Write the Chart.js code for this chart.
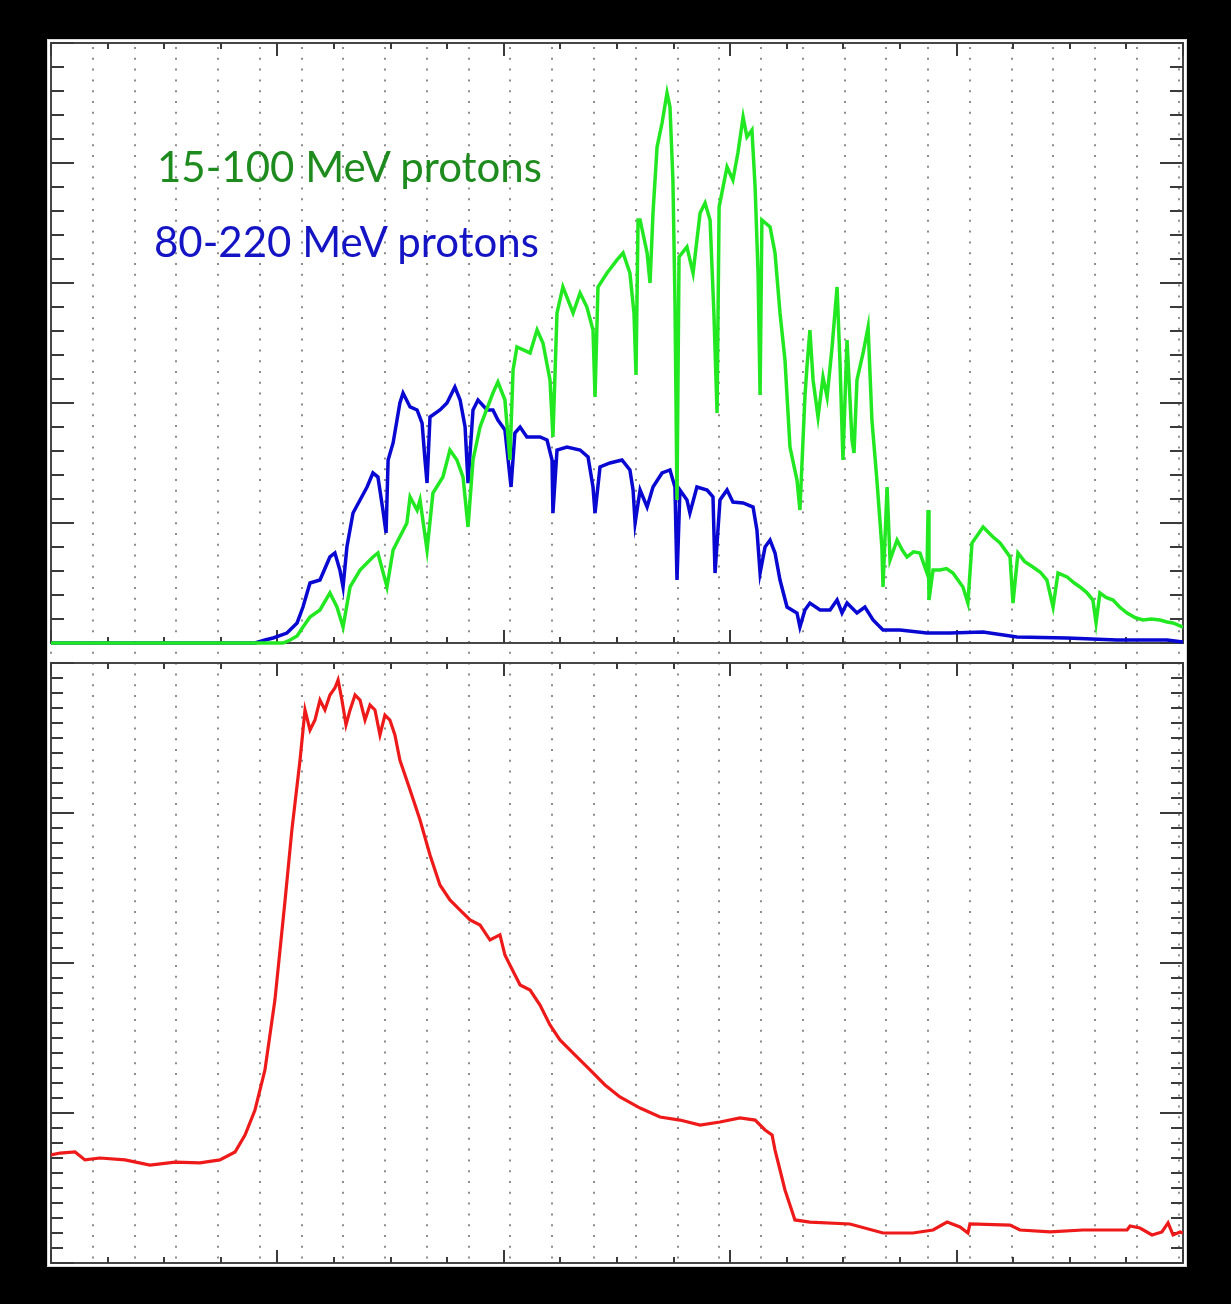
<!DOCTYPE html>
<html><head><meta charset="utf-8">
<script src="https://cdn.jsdelivr.net/npm/chart.js@4.4.1/dist/chart.umd.min.js"></script>
<style>
html,body{margin:0;padding:0;background:#000;overflow:hidden;}
#wrap{position:relative;width:1231px;height:1304px;}
#c{position:absolute;left:0;top:0;}
.lbl{position:absolute;font-family:Lato,"Open Sans",sans-serif;font-size:42px;line-height:42px;white-space:nowrap;}
</style></head><body>
<div id="wrap">
<canvas id="c" width="1231" height="1304"></canvas>
<div class="lbl" style="left:157px;top:145px;color:#1e8b1e">15-100 MeV protons</div>
<div class="lbl" style="left:154px;top:220px;color:#1414c4">80-220 MeV protons</div>
</div>
<script>
// time in days (x), proton intensity (top panel, arbitrary units), neutron monitor (bottom panel, arbitrary units)
const greenData = [[0,0],[1.025,0],[1.056,0.025],[1.087,0.058],[1.113,0.133],[1.144,0.217],[1.188,0.275],[1.232,0.417],[1.263,0.30],[1.290,0.133],[1.321,0.467],[1.365,0.608],[1.422,0.717],[1.444,0.75],[1.484,0.467],[1.511,0.775],[1.572,1.0],[1.586,1.217],[1.617,1.108],[1.630,1.192],[1.661,0.775],[1.687,1.25],[1.731,1.383],[1.762,1.608],[1.793,1.525],[1.820,1.383],[1.842,0.967],[1.864,1.525],[1.895,1.80],[1.952,2.083],[1.974,2.175],[2.005,2.025],[2.027,1.525],[2.041,2.275],[2.058,2.467],[2.116,2.417],[2.147,2.608],[2.173,2.50],[2.204,2.192],[2.217,1.717],[2.235,2.75],[2.261,2.967],[2.306,2.75],[2.337,2.917],[2.367,2.80],[2.394,2.608],[2.403,2.05],[2.416,2.967],[2.456,3.083],[2.500,3.192],[2.527,3.25],[2.557,3.083],[2.575,2.75],[2.584,2.233],[2.593,3.525],[2.602,3.525],[2.633,3.25],[2.646,3.0],[2.659,3.583],[2.677,4.133],[2.699,4.333],[2.721,4.583],[2.734,4.467],[2.747,3.858],[2.756,2.858],[2.765,1.192],[2.774,3.217],[2.809,3.30],[2.836,3.083],[2.867,3.583],[2.889,3.667],[2.911,3.525],[2.928,2.75],[2.942,1.917],[2.951,3.633],[2.986,3.967],[3.012,3.858],[3.034,4.083],[3.057,4.383],[3.074,4.217],[3.096,4.275],[3.110,3.80],[3.123,3.083],[3.132,2.067],[3.140,3.525],[3.176,3.467],[3.198,3.25],[3.220,2.75],[3.242,2.358],[3.264,1.633],[3.295,1.358],[3.308,1.108],[3.330,2.05],[3.339,2.30],[3.352,2.608],[3.366,2.192],[3.388,1.883],[3.410,2.217],[3.428,2.05],[3.450,2.467],[3.472,2.967],[3.485,2.333],[3.498,1.525],[3.516,2.525],[3.538,1.692],[3.547,1.583],[3.560,2.192],[3.587,2.417],[3.609,2.633],[3.626,1.858],[3.648,1.358],[3.670,0.80],[3.675,0.467],[3.693,1.30],[3.706,0.692],[3.737,0.858],[3.760,0.775],[3.781,0.717],[3.810,0.76],[3.838,0.75],[3.869,0.583],[3.874,1.108],[3.878,0.358],[3.896,0.608],[3.927,0.608],[3.955,0.62],[3.984,0.583],[4.028,0.467],[4.050,0.333],[4.068,0.833],[4.117,0.967],[4.161,0.883],[4.192,0.833],[4.236,0.717],[4.249,0.333],[4.271,0.75],[4.300,0.68],[4.337,0.633],[4.370,0.59],[4.399,0.525],[4.426,0.30],[4.448,0.583],[4.488,0.55],[4.520,0.50],[4.545,0.467],[4.575,0.42],[4.602,0.358],[4.616,0.167],[4.633,0.417],[4.660,0.38],[4.691,0.358],[4.720,0.30],[4.753,0.25],[4.790,0.21],[4.823,0.192],[4.860,0.20],[4.898,0.192],[4.930,0.175],[4.956,0.167],[5.0,0.133]];

const blueData = [[0,0],[0.901,0],[0.945,0.025],[0.981,0.042],[1.042,0.083],[1.087,0.167],[1.113,0.30],[1.144,0.50],[1.188,0.525],[1.232,0.717],[1.254,0.75],[1.276,0.608],[1.290,0.467],[1.307,0.80],[1.334,1.083],[1.365,1.192],[1.396,1.30],[1.422,1.417],[1.444,1.383],[1.466,1.108],[1.480,0.917],[1.489,1.525],[1.511,1.667],[1.541,2.0],[1.555,2.083],[1.586,1.967],[1.617,1.942],[1.639,1.833],[1.652,1.525],[1.661,1.333],[1.674,1.883],[1.718,1.942],[1.749,2.0],[1.784,2.133],[1.807,2.025],[1.829,1.80],[1.842,1.333],[1.864,1.942],[1.886,2.025],[1.926,1.942],[1.952,1.942],[1.974,1.858],[2.005,1.775],[2.032,1.30],[2.049,1.75],[2.072,1.80],[2.102,1.717],[2.160,1.717],[2.191,1.692],[2.213,1.525],[2.217,1.083],[2.235,1.608],[2.279,1.633],[2.337,1.608],[2.372,1.55],[2.394,1.30],[2.403,1.083],[2.425,1.467],[2.469,1.50],[2.522,1.525],[2.557,1.442],[2.571,1.275],[2.580,1.0],[2.602,1.275],[2.633,1.133],[2.659,1.30],[2.699,1.417],[2.734,1.442],[2.756,1.30],[2.765,0.525],[2.778,1.275],[2.809,1.192],[2.822,1.083],[2.853,1.30],[2.898,1.275],[2.924,1.217],[2.933,0.583],[2.955,1.192],[2.986,1.275],[3.012,1.175],[3.057,1.167],[3.101,1.133],[3.118,0.942],[3.132,0.583],[3.154,0.80],[3.176,0.858],[3.198,0.75],[3.220,0.525],[3.251,0.30],[3.295,0.25],[3.308,0.133],[3.330,0.275],[3.352,0.333],[3.397,0.275],[3.441,0.275],[3.472,0.358],[3.494,0.25],[3.516,0.333],[3.560,0.25],[3.595,0.30],[3.631,0.192],[3.675,0.108],[3.750,0.108],[3.869,0.083],[3.971,0.083],[4.117,0.092],[4.267,0.05],[4.488,0.042],[4.708,0.025],[4.929,0.025],[5.0,0.008]];

const redData = [[0,0.72],[0.040,0.733],[0.106,0.74],[0.150,0.687],[0.216,0.70],[0.327,0.687],[0.437,0.653],[0.548,0.673],[0.658,0.667],[0.746,0.687],[0.813,0.74],[0.857,0.853],[0.901,1.02],[0.945,1.287],[0.989,1.753],[1.034,2.42],[1.064,2.887],[1.100,3.353],[1.122,3.687],[1.144,3.553],[1.166,3.62],[1.188,3.753],[1.210,3.687],[1.232,3.787],[1.254,3.833],[1.268,3.887],[1.285,3.753],[1.303,3.587],[1.321,3.687],[1.343,3.787],[1.365,3.753],[1.387,3.62],[1.409,3.72],[1.431,3.687],[1.453,3.52],[1.475,3.653],[1.497,3.62],[1.519,3.52],[1.541,3.353],[1.586,3.153],[1.630,2.953],[1.674,2.72],[1.718,2.52],[1.762,2.42],[1.807,2.353],[1.851,2.287],[1.895,2.253],[1.939,2.153],[1.983,2.187],[2.005,2.053],[2.027,1.987],[2.072,1.853],[2.116,1.82],[2.160,1.72],[2.204,1.587],[2.248,1.487],[2.314,1.387],[2.381,1.287],[2.447,1.187],[2.513,1.107],[2.602,1.033],[2.690,0.973],[2.778,0.953],[2.867,0.92],[2.955,0.94],[3.043,0.967],[3.110,0.953],[3.154,0.887],[3.185,0.853],[3.198,0.753],[3.220,0.62],[3.242,0.487],[3.264,0.387],[3.286,0.287],[3.352,0.273],[3.529,0.26],[3.675,0.20],[3.807,0.20],[3.896,0.22],[3.958,0.273],[4.015,0.24],[4.050,0.20],[4.059,0.26],[4.236,0.253],[4.280,0.22],[4.413,0.207],[4.558,0.22],[4.753,0.22],[4.766,0.247],[4.810,0.233],[4.863,0.187],[4.907,0.207],[4.934,0.267],[4.956,0.187],[4.987,0.207],[5.0,0.2]];

// axis extents and tick steps
const xRange = [0, 5];
const xMinorStep = 0.25;        // minor ticks on the time axis
const xDotStep = 0.1845;        // dotted vertical grid spacing
const topRange = [0, 5];        // top panel
const topMinorStep = 0.2;
const botRange = [0, 4];        // bottom panel
const botMinorStep = 0.1;

const GREEN = '#22e822', BLUE = '#0808d2', RED = '#ee1a1a';

const isInt = v => Math.abs(v - Math.round(v)) < 1e-6;
const steps = (a, b, s) => { const out = []; const n = Math.round((b - a) / s); for (let i = 0; i <= n; i++) out.push(a + i * s); return out; };

const panelPlugin = {
  id: 'panels',
  beforeDraw(chart) {
    const c = chart.ctx, sx = chart.scales.x, sy = chart.scales.y, sy2 = chart.scales.y2;
    const L = sx.getPixelForValue(xRange[0]), R = sx.getPixelForValue(xRange[1]);
    const T1 = sy.getPixelForValue(topRange[1]), B1 = sy.getPixelForValue(topRange[0]);
    const T2 = sy2.getPixelForValue(botRange[1]), B2 = sy2.getPixelForValue(botRange[0]);
    c.save();
    c.fillStyle = '#000'; c.fillRect(0, 0, chart.width, chart.height);
    c.fillStyle = '#fff'; c.fillRect(L - 3, T1 - 3, R - L + 6, B2 - T1 + 6);
    c.strokeStyle = '#d8d8d8'; c.lineWidth = 1; c.strokeRect(L - 3.5, T1 - 3.5, R - L + 7, B2 - T1 + 7);
    // dotted vertical grid
    c.strokeStyle = '#8c8c8c'; c.lineWidth = 2; c.setLineDash([2, 8.8]);
    for (let v = xRange[0]; v <= xRange[1] + 1e-9; v += xDotStep) {
      const px = Math.round(sx.getPixelForValue(v));
      c.beginPath(); c.moveTo(px, T1 + 4); c.lineTo(px, B2 - 2); c.stroke();
    }
    c.setLineDash([]);
    // frames
    c.strokeStyle = '#474747'; c.lineWidth = 2;
    c.strokeRect(L, T1, R - L, B1 - T1);
    c.strokeRect(L, T2, R - L, B2 - T2);
    // ticks
    c.strokeStyle = '#3a3a3a'; c.lineWidth = 2;
    const line = (x1, y1, x2, y2) => { c.beginPath(); c.moveTo(x1, y1); c.lineTo(x2, y2); c.stroke(); };
    steps(topRange[0], topRange[1], topMinorStep).forEach(v => {
      const py = Math.round(sy.getPixelForValue(v)); const len = isInt(v) ? 23 : 13;
      line(L, py, L + len, py); line(R, py, R - len, py);
    });
    steps(botRange[0], botRange[1], botMinorStep).forEach(v => {
      const py = Math.round(sy2.getPixelForValue(v)); const len = isInt(v) ? 23 : 12;
      line(L, py, L + len, py); line(R, py, R - len, py);
    });
    steps(xRange[0], xRange[1], xMinorStep).forEach(v => {
      const px = Math.round(sx.getPixelForValue(v)); const len = isInt(v) ? 13 : 6;
      line(px, T1, px, T1 + len); line(px, B1, px, B1 - len);
      line(px, T2, px, T2 + len); line(px, B2, px, B2 - len);
    });
    c.restore();
  }
};

const toXY = arr => arr.map(p => ({ x: p[0], y: p[1] }));

new Chart(document.getElementById('c').getContext('2d'), {
  type: 'line',
  data: {
    datasets: [
      { label: '15-100 MeV protons', data: toXY(greenData), borderColor: GREEN, borderWidth: 3.5, pointRadius: 0, tension: 0, yAxisID: 'y', order: 0 },
      { label: '80-220 MeV protons', data: toXY(blueData), borderColor: BLUE, borderWidth: 3.5, pointRadius: 0, tension: 0, yAxisID: 'y', order: 1 },
      { label: 'Neutron monitor', data: toXY(redData), borderColor: RED, borderWidth: 3.2, pointRadius: 0, tension: 0, yAxisID: 'y2', order: 2 }
    ]
  },
  options: {
    responsive: false, animation: false, devicePixelRatio: 1,
    layout: { padding: { left: 51, right: 48, top: 43, bottom: 41 } },
    plugins: { legend: { display: false }, tooltip: { enabled: false } },
    scales: {
      x: { type: 'linear', min: xRange[0], max: xRange[1], display: false },
      y: { type: 'linear', min: -5.1667, max: topRange[1], display: false },
      y2: { type: 'linear', min: botRange[0], max: 8.1333, display: false }
    }
  },
  plugins: [panelPlugin]
});
</script>
</body></html>
